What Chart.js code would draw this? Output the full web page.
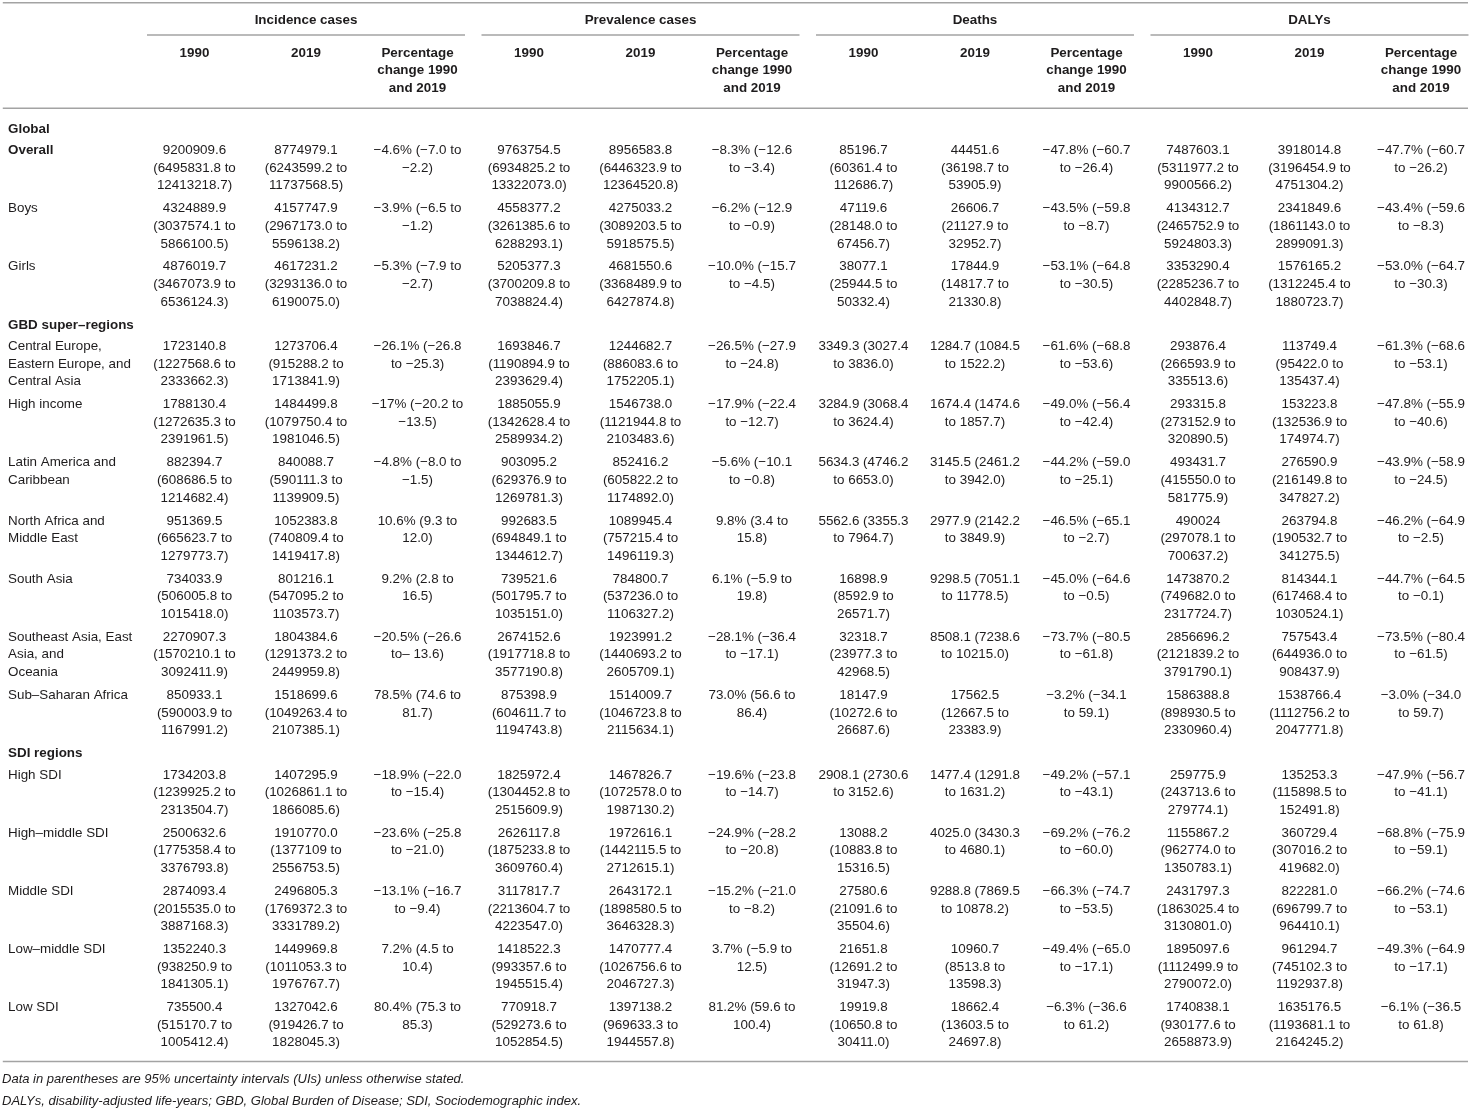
<!DOCTYPE html>
<html>
<head>
<meta charset="utf-8">
<script src="https://cdn.jsdelivr.net/npm/chart.js@4.4.1/dist/chart.umd.min.js"></script>
<style>
  html, body { margin: 0; padding: 0; background: #ffffff; }
  #wrap { width: 1471px; height: 1111px; position: relative; }
</style>
</head>
<body>
<div id="wrap"><canvas id="c"></canvas></div>
<script>
// ---------------- DATA ----------------
const measureGroups = ['Incidence cases', 'Prevalence cases', 'Deaths', 'DALYs'];
const columnLabels = ['1990', '2019', 'Percentage change 1990 and 2019'];
const sectionTitles = ['Global', 'GBD super–regions', 'SDI regions'];
const sectionSizes = [3, 7, 5];
const rowLabels = [
  'Overall', 'Boys', 'Girls',
  'Central Europe, Eastern Europe, and Central Asia', 'High income', 'Latin America and Caribbean',
  'North Africa and Middle East', 'South Asia', 'Southeast Asia, East Asia, and\nOceania', 'Sub–Saharan Africa',
  'High SDI', 'High–middle SDI', 'Middle SDI', 'Low–middle SDI', 'Low SDI'
];
const boldRowLabels = ['Overall'];

const incidence1990 = [
  '9200909.6 (6495831.8 to 12413218.7)', '4324889.9 (3037574.1 to 5866100.5)', '4876019.7 (3467073.9 to 6536124.3)',
  '1723140.8 (1227568.6 to 2333662.3)', '1788130.4 (1272635.3 to 2391961.5)', '882394.7 (608686.5 to 1214682.4)',
  '951369.5 (665623.7 to 1279773.7)', '734033.9 (506005.8 to 1015418.0)', '2270907.3 (1570210.1 to 3092411.9)',
  '850933.1 (590003.9 to 1167991.2)', '1734203.8 (1239925.2 to 2313504.7)', '2500632.6 (1775358.4 to 3376793.8)',
  '2874093.4 (2015535.0 to 3887168.3)', '1352240.3 (938250.9 to 1841305.1)', '735500.4 (515170.7 to 1005412.4)'
];
const incidence2019 = [
  '8774979.1 (6243599.2 to 11737568.5)', '4157747.9 (2967173.0 to 5596138.2)', '4617231.2 (3293136.0 to 6190075.0)',
  '1273706.4 (915288.2 to 1713841.9)', '1484499.8 (1079750.4 to 1981046.5)', '840088.7 (590111.3 to 1139909.5)',
  '1052383.8 (740809.4 to 1419417.8)', '801216.1 (547095.2 to 1103573.7)', '1804384.6 (1291373.2 to 2449959.8)',
  '1518699.6 (1049263.4 to 2107385.1)', '1407295.9 (1026861.1 to 1866085.6)', '1910770.0 (1377109 to 2556753.5)',
  '2496805.3 (1769372.3 to 3331789.2)', '1449969.8 (1011053.3 to 1976767.7)', '1327042.6 (919426.7 to 1828045.3)'
];
const incidenceChange = [
  '−4.6% (−7.0 to −2.2)', '−3.9% (−6.5 to −1.2)', '−5.3% (−7.9 to −2.7)',
  '−26.1% (−26.8 to −25.3)', '−17% (−20.2 to −13.5)', '−4.8% (−8.0 to −1.5)',
  '10.6% (9.3 to 12.0)', '9.2% (2.8 to 16.5)', '−20.5% (−26.6 to– 13.6)',
  '78.5% (74.6 to 81.7)', '−18.9% (−22.0 to −15.4)', '−23.6% (−25.8 to −21.0)',
  '−13.1% (−16.7 to −9.4)', '7.2% (4.5 to 10.4)', '80.4% (75.3 to 85.3)'
];
const prevalence1990 = [
  '9763754.5 (6934825.2 to 13322073.0)', '4558377.2 (3261385.6 to 6288293.1)', '5205377.3 (3700209.8 to 7038824.4)',
  '1693846.7 (1190894.9 to 2393629.4)', '1885055.9 (1342628.4 to 2589934.2)', '903095.2 (629376.9 to 1269781.3)',
  '992683.5 (694849.1 to 1344612.7)', '739521.6 (501795.7 to 1035151.0)', '2674152.6 (1917718.8 to 3577190.8)',
  '875398.9 (604611.7 to 1194743.8)', '1825972.4 (1304452.8 to 2515609.9)', '2626117.8 (1875233.8 to 3609760.4)',
  '3117817.7 (2213604.7 to 4223547.0)', '1418522.3 (993357.6 to 1945515.4)', '770918.7 (529273.6 to 1052854.5)'
];
const prevalence2019 = [
  '8956583.8 (6446323.9 to 12364520.8)', '4275033.2 (3089203.5 to 5918575.5)', '4681550.6 (3368489.9 to 6427874.8)',
  '1244682.7 (886083.6 to 1752205.1)', '1546738.0 (1121944.8 to 2103483.6)', '852416.2 (605822.2 to 1174892.0)',
  '1089945.4 (757215.4 to 1496119.3)', '784800.7 (537236.0 to 1106327.2)', '1923991.2 (1440693.2 to 2605709.1)',
  '1514009.7 (1046723.8 to 2115634.1)', '1467826.7 (1072578.0 to 1987130.2)', '1972616.1 (1442115.5 to 2712615.1)',
  '2643172.1 (1898580.5 to 3646328.3)', '1470777.4 (1026756.6 to 2046727.3)', '1397138.2 (969633.3 to 1944557.8)'
];
const prevalenceChange = [
  '−8.3% (−12.6 to −3.4)', '−6.2% (−12.9 to −0.9)', '−10.0% (−15.7 to −4.5)',
  '−26.5% (−27.9 to −24.8)', '−17.9% (−22.4 to −12.7)', '−5.6% (−10.1 to −0.8)',
  '9.8% (3.4 to 15.8)', '6.1% (−5.9 to 19.8)', '−28.1% (−36.4 to −17.1)',
  '73.0% (56.6 to 86.4)', '−19.6% (−23.8 to −14.7)', '−24.9% (−28.2 to −20.8)',
  '−15.2% (−21.0 to −8.2)', '3.7% (−5.9 to 12.5)', '81.2% (59.6 to 100.4)'
];
const deaths1990 = [
  '85196.7 (60361.4 to 112686.7)', '47119.6 (28148.0 to 67456.7)', '38077.1 (25944.5 to 50332.4)',
  '3349.3 (3027.4 to 3836.0)', '3284.9 (3068.4 to 3624.4)', '5634.3 (4746.2 to 6653.0)',
  '5562.6 (3355.3 to 7964.7)', '16898.9 (8592.9 to 26571.7)', '32318.7 (23977.3 to 42968.5)',
  '18147.9 (10272.6 to 26687.6)', '2908.1 (2730.6 to 3152.6)', '13088.2 (10883.8 to 15316.5)',
  '27580.6 (21091.6 to 35504.6)', '21651.8 (12691.2 to 31947.3)', '19919.8 (10650.8 to 30411.0)'
];
const deaths2019 = [
  '44451.6 (36198.7 to 53905.9)', '26606.7 (21127.9 to 32952.7)', '17844.9 (14817.7 to 21330.8)',
  '1284.7 (1084.5 to 1522.2)', '1674.4 (1474.6 to 1857.7)', '3145.5 (2461.2 to 3942.0)',
  '2977.9 (2142.2 to 3849.9)', '9298.5 (7051.1 to 11778.5)', '8508.1 (7238.6 to 10215.0)',
  '17562.5 (12667.5 to 23383.9)', '1477.4 (1291.8 to 1631.2)', '4025.0 (3430.3 to 4680.1)',
  '9288.8 (7869.5 to 10878.2)', '10960.7 (8513.8 to 13598.3)', '18662.4 (13603.5 to 24697.8)'
];
const deathsChange = [
  '−47.8% (−60.7 to −26.4)', '−43.5% (−59.8 to −8.7)', '−53.1% (−64.8 to −30.5)',
  '−61.6% (−68.8 to −53.6)', '−49.0% (−56.4 to −42.4)', '−44.2% (−59.0 to −25.1)',
  '−46.5% (−65.1 to −2.7)', '−45.0% (−64.6 to −0.5)', '−73.7% (−80.5 to −61.8)',
  '−3.2% (−34.1 to 59.1)', '−49.2% (−57.1 to −43.1)', '−69.2% (−76.2 to −60.0)',
  '−66.3% (−74.7 to −53.5)', '−49.4% (−65.0 to −17.1)', '−6.3% (−36.6 to 61.2)'
];
const dalys1990 = [
  '7487603.1 (5311977.2 to 9900566.2)', '4134312.7 (2465752.9 to 5924803.3)', '3353290.4 (2285236.7 to 4402848.7)',
  '293876.4 (266593.9 to 335513.6)', '293315.8 (273152.9 to 320890.5)', '493431.7 (415550.0 to 581775.9)',
  '490024 (297078.1 to 700637.2)', '1473870.2 (749682.0 to 2317724.7)', '2856696.2 (2121839.2 to 3791790.1)',
  '1586388.8 (898930.5 to 2330960.4)', '259775.9 (243713.6 to 279774.1)', '1155867.2 (962774.0 to 1350783.1)',
  '2431797.3 (1863025.4 to 3130801.0)', '1895097.6 (1112499.9 to 2790072.0)', '1740838.1 (930177.6 to 2658873.9)'
];
const dalys2019 = [
  '3918014.8 (3196454.9 to 4751304.2)', '2341849.6 (1861143.0 to 2899091.3)', '1576165.2 (1312245.4 to 1880723.7)',
  '113749.4 (95422.0 to 135437.4)', '153223.8 (132536.9 to 174974.7)', '276590.9 (216149.8 to 347827.2)',
  '263794.8 (190532.7 to 341275.5)', '814344.1 (617468.4 to 1030524.1)', '757543.4 (644936.0 to 908437.9)',
  '1538766.4 (1112756.2 to 2047771.8)', '135253.3 (115898.5 to 152491.8)', '360729.4 (307016.2 to 419682.0)',
  '822281.0 (696799.7 to 964410.1)', '961294.7 (745102.3 to 1192937.8)', '1635176.5 (1193681.1 to 2164245.2)'
];
const dalysChange = [
  '−47.7% (−60.7 to −26.2)', '−43.4% (−59.6 to −8.3)', '−53.0% (−64.7 to −30.3)',
  '−61.3% (−68.6 to −53.1)', '−47.8% (−55.9 to −40.6)', '−43.9% (−58.9 to −24.5)',
  '−46.2% (−64.9 to −2.5)', '−44.7% (−64.5 to −0.1)', '−73.5% (−80.4 to −61.5)',
  '−3.0% (−34.0 to 59.7)', '−47.9% (−56.7 to −41.1)', '−68.8% (−75.9 to −59.1)',
  '−66.2% (−74.6 to −53.1)', '−49.3% (−64.9 to −17.1)', '−6.1% (−36.5 to 61.8)'
];
const footnotes = [
  'Data in parentheses are 95% uncertainty intervals (UIs) unless otherwise stated.',
  'DALYs, disability-adjusted life-years; GBD, Global Burden of Disease; SDI, Sociodemographic index.'
];

const dataColumns = [
  incidence1990, incidence2019, incidenceChange,
  prevalence1990, prevalence2019, prevalenceChange,
  deaths1990, deaths2019, deathsChange,
  dalys1990, dalys2019, dalysChange
];

// ---------------- LAYOUT / STYLE ----------------
const FONT_FAMILY = '"Liberation Sans", Arial, Helvetica, sans-serif';
const FS = 13.4;          // table font size (px)
const FOOT_FS = 13;       // footnote font size
const TEXT_COLOR = '#1e1c1d';
const RULE_COLOR = '#a3a3a3';
const RULE_WIDTH = 1.5;
const CELL_WRAP_EM = 6.98;
const LABEL_WRAP_EM = 9.8;

// x scale: one unit = one column; columns 1..12 are data columns
const X_MIN = -0.7444, X_MAX = 12.4486;
const RULE_X0 = X_MIN + 0.025;
const RULE_X1 = X_MAX - 0.027;
const LABEL_X = X_MIN + 0.072;
const FOOT_X = X_MIN + 0.018;
const GROUP_HALF = 0.426;

// y scale: one unit = one text line
const Y_MAX = 63.125;
const TOP_RULE = 0.16;
const GROUP_Y = 1.14;
const GROUP_RULE = 1.99;
const COLHEAD_Y = 3.01;
const HEAD_RULE = 6.15;
const FIRST_SECTION_Y = 7.33;
const SECTION_GAP = 1.22;
const ROW_PITCH = 3.304;
const BOTTOM_RULE_GAP = 3.07;
const FOOT1_GAP = 1.02;
const FOOT_PITCH = 1.25;

function wrapText(ctx, text, maxW) {
  const lines = [];
  text.split('\n').forEach(segment => {
    const words = segment.split(' ');
    let cur = '';
    for (const w of words) {
      const test = cur ? cur + ' ' + w : w;
      if (cur && ctx.measureText(test).width > maxW) {
        lines.push(cur);
        cur = w;
      } else {
        cur = test;
      }
    }
    if (cur) lines.push(cur);
  });
  return lines;
}

const tablePlugin = {
  id: 'tablePlugin',
  afterDraw(chart) {
    const ctx = chart.ctx;
    const xs = chart.scales.x, ys = chart.scales.y;
    const px = v => xs.getPixelForValue(v);
    const py = v => ys.getPixelForValue(v);
    ctx.save();
    ctx.fillStyle = TEXT_COLOR;
    ctx.textBaseline = 'middle';

    const rule = (x0, x1, y) => {
      ctx.beginPath();
      ctx.strokeStyle = RULE_COLOR;
      ctx.lineWidth = RULE_WIDTH;
      ctx.moveTo(px(x0), py(y));
      ctx.lineTo(px(x1), py(y));
      ctx.stroke();
    };

    // top rule
    rule(RULE_X0, RULE_X1, TOP_RULE);

    // group headers
    ctx.font = `bold ${FS}px ${FONT_FAMILY}`;
    ctx.textAlign = 'center';
    measureGroups.forEach((g, gi) => {
      const first = gi * 3 + 1, last = gi * 3 + 3;
      ctx.fillText(g, px((first + last) / 2), py(GROUP_Y));
      rule(first - GROUP_HALF, last + GROUP_HALF, GROUP_RULE);
    });

    // column headers
    for (let c = 1; c <= 12; c++) {
      const label = columnLabels[(c - 1) % 3];
      const lines = wrapText(ctx, label, CELL_WRAP_EM * FS);
      lines.forEach((ln, li) => ctx.fillText(ln, px(c), py(COLHEAD_Y + li)));
    }
    rule(RULE_X0, RULE_X1, HEAD_RULE);

    // body
    let y = FIRST_SECTION_Y;
    let r = 0;
    sectionTitles.forEach((title, si) => {
      ctx.font = `bold ${FS}px ${FONT_FAMILY}`;
      ctx.textAlign = 'left';
      ctx.fillText(title, px(LABEL_X), py(y));
      y += SECTION_GAP;
      for (let k = 0; k < sectionSizes[si]; k++, r++) {
        const bold = boldRowLabels.includes(rowLabels[r]);
        ctx.font = `${bold ? 'bold ' : ''}${FS}px ${FONT_FAMILY}`;
        ctx.textAlign = 'left';
        wrapText(ctx, rowLabels[r], LABEL_WRAP_EM * FS)
          .forEach((ln, li) => ctx.fillText(ln, px(LABEL_X), py(y + li)));
        ctx.font = `${FS}px ${FONT_FAMILY}`;
        ctx.textAlign = 'center';
        dataColumns.forEach((col, ci) => {
          wrapText(ctx, col[r], CELL_WRAP_EM * FS)
            .forEach((ln, li) => ctx.fillText(ln, px(ci + 1), py(y + li)));
        });
        if (k < sectionSizes[si] - 1 || si < sectionTitles.length - 1) y += ROW_PITCH;
      }
    });
    const bottom = y + BOTTOM_RULE_GAP;
    rule(RULE_X0, RULE_X1, bottom);

    // footnotes
    ctx.font = `italic ${FOOT_FS}px ${FONT_FAMILY}`;
    ctx.textAlign = 'left';
    footnotes.forEach((f, fi) => ctx.fillText(f, px(FOOT_X), py(bottom + FOOT1_GAP + fi * FOOT_PITCH)));
    ctx.restore();
  }
};

new Chart(document.getElementById('c'), {
  type: 'scatter',
  data: { datasets: [{ data: [], pointRadius: 0 }] },
  options: {
    responsive: true,
    maintainAspectRatio: false,
    animation: false,
    layout: { padding: 0 },
    events: [],
    plugins: { legend: { display: false }, tooltip: { enabled: false } },
    scales: {
      x: { type: 'linear', min: X_MIN, max: X_MAX, display: false },
      y: { type: 'linear', min: 0, max: Y_MAX, reverse: true, display: false }
    }
  },
  plugins: [tablePlugin]
});
</script>
</body>
</html>
